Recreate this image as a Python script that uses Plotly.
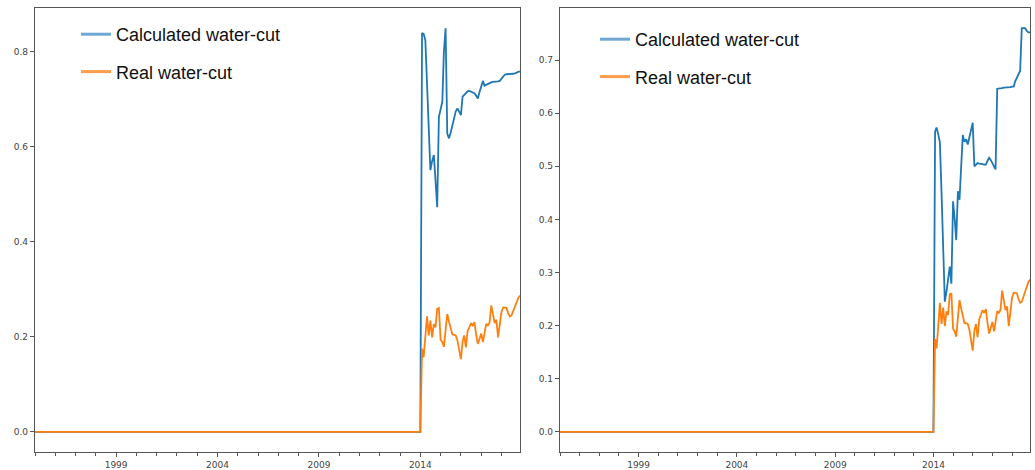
import pandas as pd
import plotly.graph_objects as go

# ---------------- data ----------------
# flat zero period, then monthly readings Feb-2014 .. Dec-2018
zero_dates = ["1995-01-01", "2014-01-01"]
zero_vals = [0.0, 0.0]
month_dates = [d.strftime("%Y-%m-%d") for d in pd.date_range("2014-02-01", "2018-12-01", freq="MS")]

calc_left = [
    0.840, 0.838, 0.825, 0.730, 0.620, 0.551, 0.570, 0.583, 0.530, 0.473,
    0.663, 0.680, 0.695, 0.800, 0.850, 0.628, 0.618, 0.630, 0.645, 0.656,
    0.675, 0.681, 0.672, 0.667, 0.706, 0.710, 0.714, 0.717, 0.718, 0.716,
    0.714, 0.713, 0.708, 0.702, 0.715, 0.730, 0.739, 0.729, 0.731, 0.733,
    0.735, 0.736, 0.737, 0.737, 0.738, 0.738, 0.739, 0.743, 0.748, 0.752,
    0.753, 0.753, 0.754, 0.754, 0.754, 0.755, 0.757, 0.758, 0.759,
]
calc_right = [
    0.565, 0.573, 0.560, 0.545, 0.450, 0.330, 0.245, 0.264, 0.290, 0.311,
    0.279, 0.434, 0.400, 0.361, 0.453, 0.437, 0.500, 0.559, 0.546, 0.551,
    0.541, 0.555, 0.570, 0.582, 0.500, 0.503, 0.506, 0.505, 0.505, 0.504,
    0.503, 0.503, 0.510, 0.516, 0.512, 0.506, 0.500, 0.494, 0.646, 0.646,
    0.647, 0.647, 0.648, 0.648, 0.649, 0.649, 0.649, 0.650, 0.650, 0.660,
    0.667, 0.673, 0.680, 0.760, 0.760, 0.760, 0.755, 0.752, 0.752,
]
real_wc = [
    0.175, 0.157, 0.200, 0.243, 0.203, 0.234, 0.199, 0.227, 0.220, 0.259,
    0.261, 0.194, 0.189, 0.179, 0.215, 0.248, 0.232, 0.220, 0.205, 0.204,
    0.203, 0.192, 0.170, 0.153, 0.190, 0.203, 0.178, 0.212, 0.220, 0.229,
    0.224, 0.231, 0.206, 0.185, 0.195, 0.207, 0.189, 0.205, 0.227, 0.224,
    0.230, 0.266, 0.245, 0.229, 0.236, 0.199, 0.225, 0.252, 0.262, 0.261,
    0.261, 0.250, 0.243, 0.245, 0.255, 0.266, 0.275, 0.282, 0.287,
]
series_names = ["Calculated water-cut", "Real water-cut"]
x_tick_years = ["1999", "2004", "2009", "2014"]

BLUE = "#1f77b4"
ORANGE = "#ff7f0e"
LEG_BLUE = "#6ea6d4"
LEG_ORANGE = "#ff9d4a"

dates = zero_dates + month_dates
W, H = 1035, 470

fig = go.Figure()

panels = [
    ("x", "y", calc_left, "legend"),
    ("x2", "y2", calc_right, "legend2"),
]
for xa, ya, calc, lg in panels:
    fig.add_trace(go.Scatter(
        x=dates, y=zero_vals + calc, mode="lines", name=series_names[0],
        line=dict(color=BLUE, width=1.8), xaxis=xa, yaxis=ya,
        showlegend=False))
    fig.add_trace(go.Scatter(
        x=dates, y=zero_vals + real_wc, mode="lines", name=series_names[1],
        line=dict(color=ORANGE, width=1.8), xaxis=xa, yaxis=ya,
        showlegend=False))
    # legend entries (no data), drawn with the thicker, lighter key line
    fig.add_trace(go.Scatter(
        x=[None], y=[None], mode="lines", name=series_names[0],
        line=dict(color=LEG_BLUE, width=3), xaxis=xa, yaxis=ya,
        legend=lg, legendgroup=lg + "a", showlegend=True, hoverinfo="skip"))
    fig.add_trace(go.Scatter(
        x=[None], y=[None], mode="lines", name=series_names[1],
        line=dict(color=LEG_ORANGE, width=3), xaxis=xa, yaxis=ya,
        legend=lg, legendgroup=lg + "b", showlegend=True, hoverinfo="skip"))


def yrange(vals):
    lo = min(vals)
    hi = max(vals)
    pad = 0.05 * (hi - lo)
    return [lo - pad, hi + pad]


axis_common = dict(
    showline=True, mirror=True, linecolor="#555", linewidth=1.2,
    ticks="outside", ticklen=4, tickcolor="#555", tickwidth=1,
    showgrid=False, zeroline=False,
    tickfont=dict(family="DejaVu Sans", size=9, color="#444"),
    automargin=False,
)
xaxis_common = dict(
    type="date", range=[dates[0], dates[-1]],
    tickvals=[y + "-01-01" for y in x_tick_years], ticktext=x_tick_years,
    minor=dict(dtick="M12", tick0="1995-01-01", ticks="outside", ticklen=2.5,
               tickcolor="#555", showgrid=False),
    **axis_common,
)

legend_font = dict(family="Liberation Sans, Arial", size=18, color="#111")

fig.update_layout(
    width=W, height=H,
    margin=dict(l=0, r=0, t=0, b=0),
    paper_bgcolor="white", plot_bgcolor="white",
    xaxis=dict(domain=[35 / W, 520 / W], anchor="y", **xaxis_common),
    yaxis=dict(domain=[18 / H, 462 / H], anchor="x",
               range=yrange(zero_vals + calc_left + real_wc),
               dtick=0.2, tick0=0, tickformat=".1f", **axis_common),
    xaxis2=dict(domain=[560 / W, 1030 / W], anchor="y2", **xaxis_common),
    yaxis2=dict(domain=[18 / H, 462 / H], anchor="x2",
                range=yrange(zero_vals + calc_right + real_wc),
                dtick=0.1, tick0=0, tickformat=".1f", **axis_common),
    legend=dict(x=76 / W, y=1 - 16 / H, xanchor="left", yanchor="top",
                bgcolor="rgba(0,0,0,0)", borderwidth=0, tracegroupgap=11,
                font=legend_font),
    legend2=dict(x=595 / W, y=1 - 21 / H, xanchor="left", yanchor="top",
                 bgcolor="rgba(0,0,0,0)", borderwidth=0, tracegroupgap=11,
                 font=legend_font),
    showlegend=True,
)

fig.write_html("out.html")
